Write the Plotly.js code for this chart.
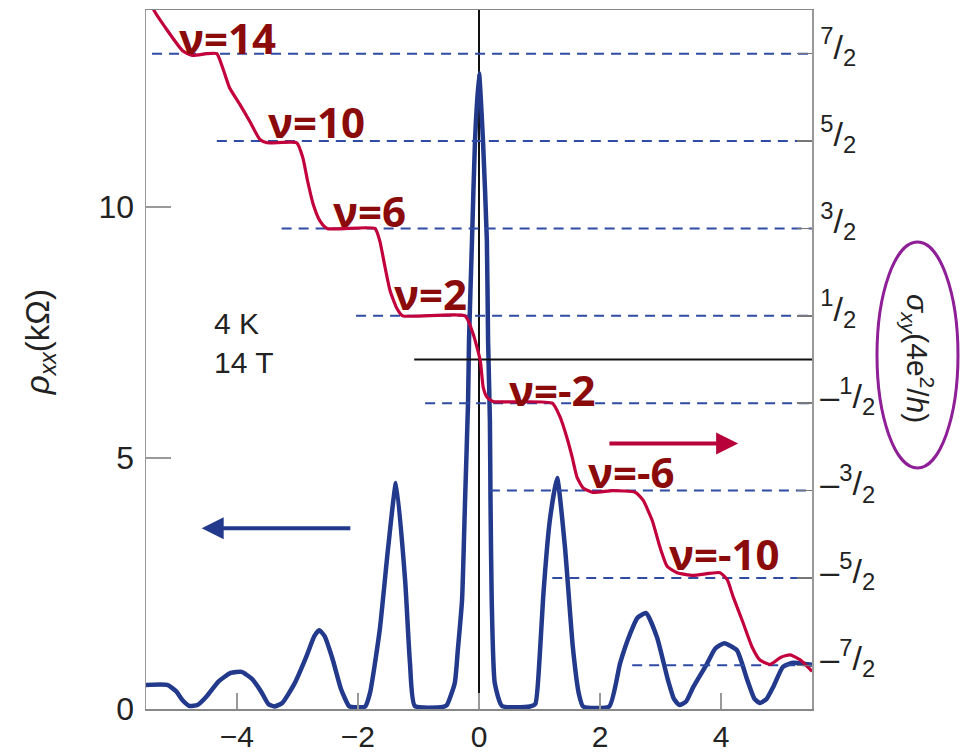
<!DOCTYPE html>
<html><head><meta charset="utf-8">
<script src="https://cdn.plot.ly/plotly-3.0.1.min.js"></script>
<style>html,body{margin:0;padding:0;background:#fff}#chart{width:962px;height:755px}</style>
</head><body><div id="chart"></div>
<script>
// rho_xx (kOhm) vs gate (left axis)
const rhoX = [-5.5,-5.15,-5.0,-4.9,-4.78,-4.65,-4.5,-4.3,-4.1,-3.92,-3.75,-3.6,-3.48,-3.38,-3.25,-3.05,-2.85,-2.72,-2.64,-2.55,-2.42,-2.28,-2.15,-2.1,-1.88,-1.8,-1.64,-1.5,-1.37,-1.22,-1.14,-1.06,-0.6,-0.53,-0.40,-0.35,-0.28,-0.23,-0.18,-0.165,-0.116,-0.066,0,0.066,0.13,0.15,0.18,0.19,0.21,0.26,0.38,0.84,0.93,1.0,1.06,1.17,1.29,1.42,1.55,1.65,1.72,2.15,2.33,2.5,2.62,2.76,2.94,3.12,3.22,3.31,3.42,3.54,3.77,3.9,4.05,4.26,4.43,4.55,4.64,4.75,4.86,5.02,5.19,5.5];
const rhoY = [0.48,0.48,0.35,0.18,0.06,0.08,0.25,0.55,0.72,0.74,0.6,0.35,0.1,0.05,0.12,0.5,1.05,1.45,1.57,1.45,1.0,0.4,0.06,0.04,0.05,0.32,1.57,3.22,4.5,2.56,0.91,0.06,0.04,0.08,0.52,1.17,2.17,4.16,6.14,7.34,9.32,11.31,12.66,11.31,9.32,7.34,5.75,4.16,2.17,0.52,0.06,0.05,0.1,1.0,2.23,3.76,4.6,3.22,1.23,0.3,0.05,0.05,0.91,1.51,1.82,1.91,1.43,0.58,0.2,0.08,0.15,0.44,0.91,1.2,1.31,1.17,0.58,0.2,0.12,0.2,0.44,0.84,0.92,0.88];

// sigma_xy (4e^2/h) vs gate (right axis)
const sigX = [-5.45,-5.355,-4.89,-4.73,-4.50,-4.33,-4.23,-4.12,-3.95,-3.79,-3.62,-3.50,-3.01,-2.91,-2.83,-2.74,-2.63,-2.51,-1.72,-1.64,-1.55,-1.47,-1.36,-1.26,-0.23,-0.10,0.02,0.07,0.13,0.23,1.21,1.34,1.45,1.54,1.62,1.72,1.88,2.21,2.58,2.71,2.86,2.99,3.11,3.27,3.54,3.98,4.10,4.20,4.36,4.51,4.64,4.81,4.98,5.14,5.31,5.50];
const sigY = [4.12,3.98,3.53,3.48,3.50,3.50,3.33,3.11,2.92,2.73,2.52,2.48,2.48,2.31,2.04,1.78,1.59,1.50,1.50,1.36,1.05,0.79,0.59,0.50,0.50,0.30,-0.01,-0.32,-0.43,-0.48,-0.50,-0.66,-0.89,-1.12,-1.35,-1.47,-1.52,-1.50,-1.52,-1.61,-1.84,-2.15,-2.37,-2.44,-2.47,-2.44,-2.52,-2.72,-3.01,-3.29,-3.44,-3.49,-3.41,-3.38,-3.44,-3.57];

// quantized plateau levels and where their dashed guide starts
const levels = [3.5,2.5,1.5,0.5,-0.5,-1.5,-2.5,-3.5];
const levelStart = [-5.40,-4.33,-3.26,-2.03,-0.89,0.18,1.21,2.53];
const levelTicks = ['<sup>7</sup>/<sub>2</sub>','<sup>5</sup>/<sub>2</sub>','<sup>3</sup>/<sub>2</sub>','<sup>1</sup>/<sub>2</sub>',
  '–<sup>1</sup>/<sub>2</sub>','–<sup>3</sup>/<sub>2</sub>','–<sup>5</sup>/<sub>2</sub>','–<sup>7</sup>/<sub>2</sub>'];
const nuLabels = ['ν=14','ν=10','ν=6','ν=2','ν=-2','ν=-6','ν=-10'];
const xTicks = [-4,-2,0,2,4];
const yTicks = [0,5,10];

const traces = [];
levels.forEach((lv,i)=>{
  traces.push({x:[levelStart[i],5.5],y:[lv,lv],yaxis:'y2',mode:'lines',
    line:{color:'#2f4ba3',width:2,dash:'10px,7px'},hoverinfo:'skip',showlegend:false});
});
traces.push({x:[0,0],y:[0,13.92],mode:'lines',line:{color:'#111',width:2},showlegend:false,hoverinfo:'skip'});
traces.push({x:[-1.07,5.5],y:[0,0],yaxis:'y2',mode:'lines',line:{color:'#111',width:2},showlegend:false,hoverinfo:'skip'});
traces.push({x:rhoX,y:rhoY,mode:'lines',line:{color:'#233a8c',width:4.5,shape:'spline',smoothing:0.5},showlegend:false});
traces.push({x:sigX,y:sigY,yaxis:'y2',mode:'lines',line:{color:'#c2003c',width:3.2,shape:'spline',smoothing:0.5},showlegend:false});

const nuPos = [[-4.98,3.68],[-3.51,2.72],[-2.45,1.70],[-1.44,0.75],[0.46,-0.34],[1.77,-1.28],[3.10,-2.22]];
const tickFont = {family:'Liberation Sans, Arial, sans-serif',size:30,color:'#222'};
const annotations = nuLabels.map((t,i)=>({text:t,x:nuPos[i][0],y:nuPos[i][1],xref:'x',yref:'y2',
  xanchor:'left',yanchor:'middle',showarrow:false,
  font:{family:'Open Sans, sans-serif',size:42,color:'#8b0a0a',weight:'bold'}}));
annotations.push({text:'4 K<br>14 T',x:0.099,y:0.5236,xref:'paper',yref:'paper',xanchor:'left',yanchor:'middle',
  align:'left',showarrow:false,font:tickFont});
annotations.push({text:'<i>ρ</i><sub><i>xx</i></sub>(kΩ)',x:-0.159,y:0.525,xref:'paper',yref:'paper',
  xanchor:'center',yanchor:'middle',
  textangle:-90,showarrow:false,font:{family:'Liberation Sans, Arial, sans-serif',size:33,color:'#222'}});
annotations.push({text:'<i>σ</i><sub><i>xy</i></sub>(4e<sup>2</sup>/<i>h</i>)',x:1.159,y:0.5007,xref:'paper',yref:'paper',
  xanchor:'center',yanchor:'middle',
  textangle:90,showarrow:false,font:{family:'Liberation Sans, Arial, sans-serif',size:30,color:'#222'}});
annotations.push({text:'',x:-4.58,y:3.6,ax:-2.1,ay:3.6,xref:'x',yref:'y',axref:'x',ayref:'y',
  showarrow:true,arrowhead:2,arrowsize:1.1,arrowwidth:4,arrowcolor:'#233a8c',standoff:0});
annotations.push({text:'',x:4.28,y:-0.96,ax:2.13,ay:-0.96,xref:'x',yref:'y2',axref:'x',ayref:'y2',
  showarrow:true,arrowhead:2,arrowsize:1.1,arrowwidth:4,arrowcolor:'#b8003a',standoff:0});

const layout = {
  width:962,height:755,margin:{l:146,r:150,t:10,b:46},
  paper_bgcolor:'#fff',plot_bgcolor:'#fff',showlegend:false,
  xaxis:{range:[-5.5,5.5],tickvals:xTicks,ticks:'inside',ticklen:16,tickwidth:1.5,tickcolor:'#999',
    showline:true,linecolor:'#888',linewidth:1.5,mirror:true,showgrid:false,zeroline:false,tickfont:tickFont},
  yaxis:{range:[0,13.92],tickvals:yTicks,ticks:'inside',ticklen:25,tickwidth:1.5,tickcolor:'#999',
    showline:true,linecolor:'#999',linewidth:1.5,showgrid:false,zeroline:false,ticklabelstandoff:4,
    tickfont:{family:'Liberation Sans, Arial, sans-serif',size:32,color:'#222'}},
  yaxis2:{range:[-4,4],overlaying:'y',side:'right',tickvals:levels,ticktext:levelTicks,ticks:'inside',ticklen:15,
    tickwidth:1.5,tickcolor:'#777',showline:true,linecolor:'#999',linewidth:1.5,showgrid:false,zeroline:false,
    ticklabelshift:-7,
    tickfont:{family:'Liberation Sans, Arial, sans-serif',size:34,color:'#222'}},
  annotations:annotations,
  shapes:[{type:'circle',xref:'paper',yref:'paper',x0:1.0976,x1:1.2192,y0:0.3448,y1:0.668,
    line:{color:'#8e1f97',width:3}}]
};
Plotly.newPlot('chart',traces,layout,{displayModeBar:false,staticPlot:true});
</script></body></html>
